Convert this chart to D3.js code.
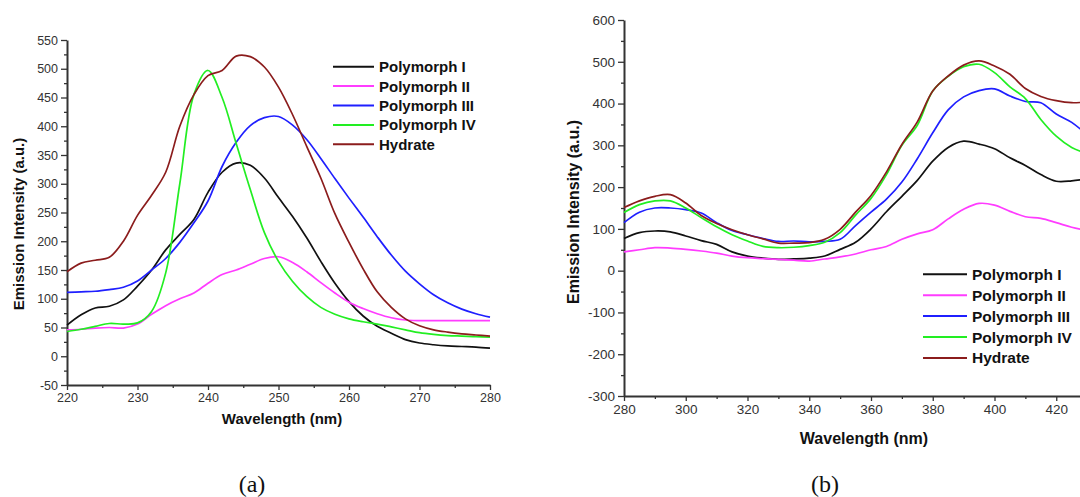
<!DOCTYPE html>
<html>
<head>
<meta charset="utf-8">
<script src="https://cdn.jsdelivr.net/npm/d3@7"></script>
<style>
html,body{margin:0;padding:0;background:#fff;}
svg{display:block;}
</style>
</head>
<body>
<svg id="chart" width="1080" height="497"></svg>
<script>
// ---------- DATA ----------
const seriesNames = ["Polymorph I","Polymorph II","Polymorph III","Polymorph IV","Hydrate"];
const seriesColors = ["#111111","#ff3cff","#1f1fff","#22ee22","#8b1c1c"];

// Panel (a)
const wlA = [220,222,224,226,228,230,232,234,236,238,240,242,244,246,248,250,252,254,256,258,260,262,264,266,268,270,272,274,276,278,280];
const aPolyI   = [54,72,84,87,98,122,150,185,212,238,285,320,336,332,310,276,243,206,165,127,95,70,52,40,29,23,20,18,17,16,14];
const aPolyII  = [46,47,49,50,49,56,73,88,100,110,127,142,150,160,170,173,163,147,128,110,94,83,74,67,63,62,62,62,62,62,62];
const aPolyIII = [111,112,113,116,120,131,150,170,198,232,270,330,372,401,415,417,402,377,344,309,275,242,208,176,148,126,107,93,82,74,68];
const aPolyIV  = [43,47,52,57,56,58,78,145,300,455,497,450,370,290,215,165,130,104,85,73,65,60,56,51,46,41,38,36,35,34,33];
const aHydrate = [147,162,167,172,200,245,280,320,400,455,488,497,522,521,503,468,420,365,310,248,198,152,112,85,65,53,46,42,39,37,35];

// Panel (b)
const wlB = [280,285,290,295,300,305,310,315,320,325,330,335,340,345,350,355,360,365,370,375,380,385,390,395,400,405,410,415,420,425,430];
const bPolyI   = [77,91,95,93,83,72,63,45,35,30,27,28,30,35,51,68,100,141,178,216,262,295,310,303,292,270,252,230,214,215,220];
const bPolyII  = [45,50,55,54,51,47,42,35,31,29,27,25,23,28,33,40,50,58,75,88,98,124,147,161,157,142,129,125,115,104,96];
const bPolyIII = [115,140,150,150,146,138,115,96,86,77,70,71,69,70,75,108,140,171,212,268,330,385,416,431,435,418,405,402,375,355,325];
const bPolyIV  = [139,158,167,167,150,127,105,86,71,58,55,56,60,68,91,133,173,230,300,348,430,465,488,494,474,440,412,362,322,295,280];
const bHydrate = [151,167,178,182,162,132,113,98,86,76,66,66,67,75,99,140,180,236,302,356,430,466,492,502,490,470,436,417,407,402,404];

// Ticks
const aXTicks = [220,230,240,250,260,270,280];
const aYTicks = [-50,0,50,100,150,200,250,300,350,400,450,500,550];
const bXTicks = [280,300,320,340,360,380,400,420];
const bYTicks = [-300,-200,-100,0,100,200,300,400,500,600];

const svg = d3.select("#chart");

function panel(cfg){
  const g = svg.append("g");
  const x = d3.scaleLinear().domain(cfg.xDomain).range(cfg.xRange);
  const y = d3.scaleLinear().domain(cfg.yDomain).range(cfg.yRange);

  const xMinor = d3.range(cfg.xDomain[0], cfg.xDomain[1]+0.001, cfg.xMinorStep).filter(v => !cfg.xTicks.includes(v));
  const yMinor = d3.range(cfg.yDomain[0], cfg.yDomain[1]+0.001, cfg.yMinorStep).filter(v => !cfg.yTicks.includes(v));
  const fmt = d => String(d);

  const gx = g.append("g").attr("transform",`translate(0,${cfg.yRange[0]})`)
    .call(d3.axisBottom(x).tickValues(cfg.xTicks).tickSize(5).tickSizeOuter(0).tickPadding(3).tickFormat(fmt));
  const gxm = g.append("g").attr("transform",`translate(0,${cfg.yRange[0]})`)
    .call(d3.axisBottom(x).tickValues(xMinor).tickSize(3).tickSizeOuter(0).tickFormat(""));
  const gy = g.append("g").attr("transform",`translate(${cfg.xRange[0]},0)`)
    .call(d3.axisLeft(y).tickValues(cfg.yTicks).tickSize(6).tickSizeOuter(0).tickPadding(3).tickFormat(fmt));
  const gym = g.append("g").attr("transform",`translate(${cfg.xRange[0]},0)`)
    .call(d3.axisLeft(y).tickValues(yMinor).tickSize(3).tickSizeOuter(0).tickFormat(""));
  gxm.select(".domain").remove();
  gym.select(".domain").remove();
  [gx,gy,gxm,gym].forEach(a=>{
    a.selectAll(".domain").attr("stroke","#333").attr("stroke-width",2);
    a.selectAll(".tick line").attr("stroke","#333").attr("stroke-width",1.3);
    a.selectAll(".tick text").attr("fill","#333")
      .style("font-family","Liberation Sans, Arial, sans-serif").style("font-size",cfg.tickFont+"px");
  });

  const line = d3.line().x((d,i)=>x(cfg.wl[i])).y(d=>y(d)).curve(d3.curveCatmullRom.alpha(0.5));
  cfg.series.forEach((s,i)=>{
    g.append("path").datum(s).attr("d",line).attr("fill","none")
      .attr("stroke",seriesColors[i]).attr("stroke-width",1.7).attr("stroke-linejoin","round");
  });

  g.append("text").attr("x",cfg.xTitle[0]).attr("y",cfg.xTitle[1]).attr("text-anchor","middle")
    .style("font-family","Liberation Sans, Arial, sans-serif").style("font-weight","bold")
    .style("font-size",cfg.titleFont+"px").attr("fill","#111").text("Wavelength (nm)");
  g.append("text").attr("transform",`translate(${cfg.yTitle[0]},${cfg.yTitle[1]}) rotate(-90)`)
    .attr("text-anchor","middle")
    .style("font-family","Liberation Sans, Arial, sans-serif").style("font-weight","bold")
    .style("font-size",cfg.titleFont+"px").attr("fill","#111").text("Emission Intensity (a.u.)");

  const lg = g.append("g");
  seriesNames.forEach((n,i)=>{
    const yy = cfg.legend.y0 + i*cfg.legend.dy;
    lg.append("line").attr("x1",cfg.legend.x1).attr("x2",cfg.legend.x2).attr("y1",yy).attr("y2",yy)
      .attr("stroke",seriesColors[i]).attr("stroke-width",2);
    lg.append("text").attr("x",cfg.legend.tx).attr("y",yy).attr("dy","0.36em")
      .style("font-family","Liberation Sans, Arial, sans-serif").style("font-weight","bold")
      .style("font-size",cfg.legend.font+"px").attr("fill","#111").text(n);
  });

  svg.append("text").attr("x",cfg.label[0]).attr("y",cfg.label[1]).attr("text-anchor","middle")
    .style("font-family","Liberation Serif, Times New Roman, serif").style("font-size","24px")
    .attr("fill","#111").text(cfg.labelText);
}

panel({
  wl: wlA, series:[aPolyI,aPolyII,aPolyIII,aPolyIV,aHydrate],
  xDomain:[220,280], xRange:[67,490], yDomain:[-50,550], yRange:[385,40],
  xTicks:aXTicks, yTicks:aYTicks, xMinorStep:5, yMinorStep:25,
  tickFont:12.5, titleFont:15,
  xTitle:[282,424], yTitle:[24,224],
  legend:{x1:333,x2:374,tx:379,y0:66.7,dy:19.4,font:15},
  label:[252,492], labelText:"(a)"
});

panel({
  wl: wlB, series:[bPolyI,bPolyII,bPolyIII,bPolyIV,bHydrate],
  xDomain:[280,440], xRange:[624,1118], yDomain:[-300,600], yRange:[396,20],
  xTicks:bXTicks, yTicks:bYTicks, xMinorStep:10, yMinorStep:50,
  tickFont:13.5, titleFont:16,
  xTitle:[864,444], yTitle:[579,212],
  legend:{x1:923,x2:967,tx:972,y0:274.3,dy:20.9,font:15.5},
  label:[825,492], labelText:"(b)"
});
</script>
</body>
</html>
